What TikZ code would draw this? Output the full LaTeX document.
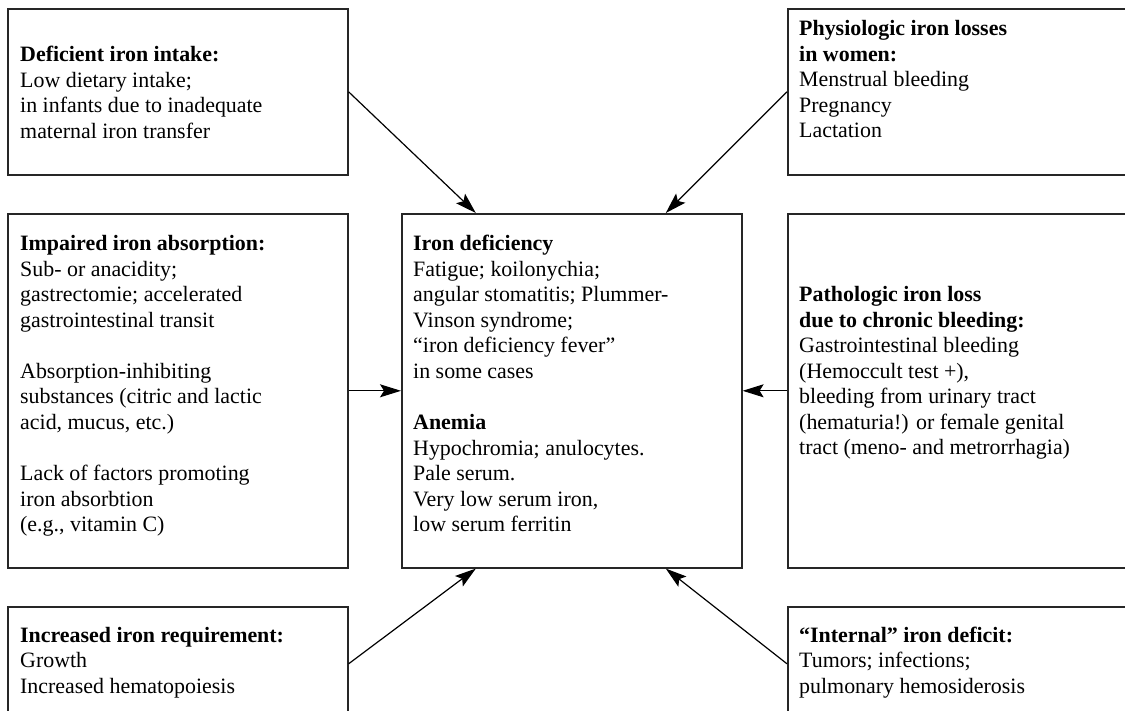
\documentclass[tikz,border=0pt]{standalone}
\usepackage{fontspec}
\setmainfont{Liberation Serif}
\usetikzlibrary{arrows.meta,calc}
\begin{document}
\begin{tikzpicture}[x=1bp,y=-1bp,
  box/.style={draw=black!85,line width=1.6bp,rectangle,inner sep=0pt,anchor=north west},
  txt/.style={anchor=base west,align=left,inner sep=0pt,font=\fontsize{22}{25.6}\selectfont},
  conn/.style={draw=black,line width=1.2bp,-{Stealth[length=21bp,width=13bp,inset=4bp]}}]
\useasboundingbox (0,0) rectangle (1125,711);
\fill[white] (0,0) rectangle (1125,711);
\clip (0,0) rectangle (1125,711);
% boxes
\node[box,minimum width=340bp,minimum height=166bp] (tl) at (7,8) {};
\node[box,minimum width=345bp,minimum height=166bp] (tr) at (787,8) {};
\node[box,minimum width=340bp,minimum height=354bp] (ml) at (7,213) {};
\node[box,minimum width=340bp,minimum height=354bp] (c) at (401,213) {};
\node[box,minimum width=345bp,minimum height=354bp] (mr) at (787,213) {};
\node[box,minimum width=340bp,minimum height=114bp] (bl) at (7,606) {};
\node[box,minimum width=345bp,minimum height=114bp] (br) at (787,606) {};
% texts (anchored at the baseline of their last line)
\node[txt] (tlt) at (20,138.3) {\textbf{Deficient iron intake:}\\Low dietary intake;\\in infants due to inadequate\\maternal iron transfer};
\node[txt] (trt) at (799,137.9) {\textbf{Physiologic iron losses}\\\textbf{in women:}\\Menstrual bleeding\\Pregnancy\\Lactation};
\node[txt] (mlt) at (20,531.6) {\textbf{Impaired iron absorption:}\\Sub- or anacidity;\\gastrectomie; accelerated\\gastrointestinal transit\\[25.6bp]Absorption-inhibiting\\substances (citric and lactic\\acid, mucus, etc.)\\[25.6bp]Lack of factors promoting\\iron absorbtion\\(e.g., vitamin C)};
\node[txt] (ct) at (413,531.6) {\textbf{Iron deficiency}\\Fatigue; koilonychia;\\angular stomatitis; Plummer-\\Vinson syndrome;\\“iron deficiency fever”\\in some cases\\[25.6bp]\textbf{Anemia}\\Hypochromia; anulocytes.\\Pale serum.\\Very low serum iron,\\low serum ferritin};
\node[txt] (mrt) at (799,454.8) {\textbf{Pathologic iron loss}\\\textbf{due to chronic bleeding:}\\Gastrointestinal bleeding\\(Hemoccult test +),\\bleeding from urinary tract\\(hematuria!) or female genital\\tract (meno- and metrorrhagia)};
\node[txt] (blt) at (20,693.2) {\textbf{Increased iron requirement:}\\Growth\\Increased hematopoiesis};
\node[txt] (brt) at (799,693.2) {\textbf{“Internal” iron deficit:}\\Tumors; infections;\\pulmonary hemosiderosis};
% connectors
\coordinate (c1) at ($(c.north)+(-96,0)$);
\coordinate (c2) at ($(c.north)+(94,0)$);
\coordinate (c3) at ($(c.south)+(-96,0)$);
\coordinate (c4) at ($(c.south)+(94,0)$);
\draw[conn] (tl.east) -- (c1);
\draw[conn] (tr.west) -- (c2);
\draw[conn] (ml.east) -- (c.west);
\draw[conn] (mr.west) -- (c.east);
\draw[conn] (bl.east) -- (c3);
\draw[conn] (br.west) -- (c4);
\end{tikzpicture}
\end{document}
